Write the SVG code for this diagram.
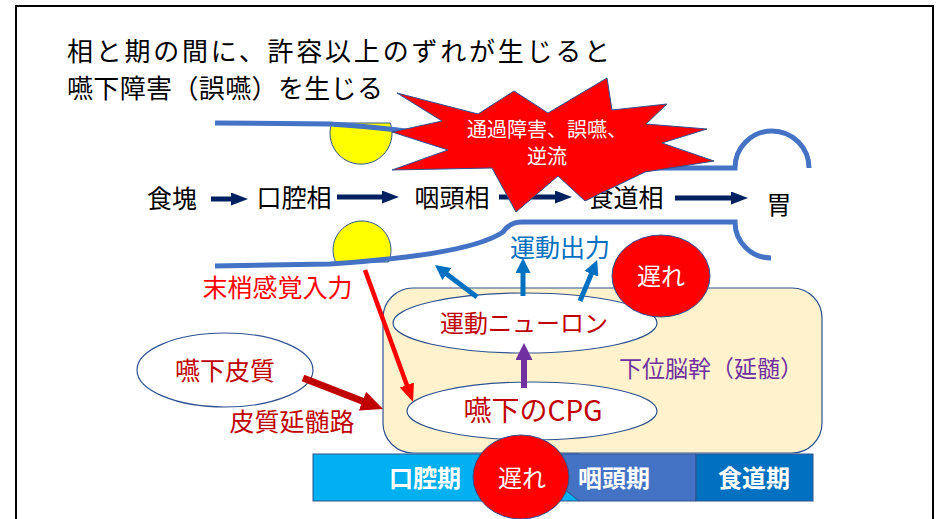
<svg xmlns="http://www.w3.org/2000/svg" width="937" height="519" viewBox="0 0 937 519">
  <style>
    text { font-family: "Noto Sans CJK JP", "Noto Sans", sans-serif; }
    .title { font-size: 26px; fill: #000; }
    .flow { font-size: 25px; fill: #000; text-anchor: middle; }
    .tube { fill: none; stroke: #4472C4; stroke-width: 5; }
    .bolus { fill: #FFFF00; stroke: #2F528F; stroke-width: 1; }
    .oval { fill: #FFFFFF; stroke: #2F528F; stroke-width: 1.2; }
    .dred { fill: #C00000; text-anchor: middle; }
    .late { fill: #FF0000; stroke: #2F528F; stroke-width: 1; }
    .white { fill: #FFFFFF; text-anchor: middle; }
    .phase { fill: #FFFFFF; font-size: 24px; font-weight: bold; text-anchor: middle; }
    .seg { stroke: #2F528F; stroke-width: 1; }
  </style>
  <defs>
    <marker id="hNavy" markerUnits="userSpaceOnUse" markerWidth="17" markerHeight="13" refX="9" refY="6.5" orient="auto">
      <path d="M0,0 L17,6.5 L0,13 Z" fill="#002060"/>
    </marker>
    <marker id="hBlue" markerUnits="userSpaceOnUse" markerWidth="15" markerHeight="15" refX="7" refY="7.5" orient="auto">
      <path d="M0,0 L15,7.5 L0,15 Z" fill="#0070C0"/>
    </marker>
    <marker id="hRed" markerUnits="userSpaceOnUse" markerWidth="18" markerHeight="15" refX="10" refY="7.5" orient="auto">
      <path d="M0,0 L18,7.5 L0,15 Z" fill="#FF0000"/>
    </marker>
    <marker id="hDred" markerUnits="userSpaceOnUse" markerWidth="22" markerHeight="20" refX="12" refY="10" orient="auto">
      <path d="M0,0 L22,10 L0,20 Z" fill="#C00000"/>
    </marker>
    <marker id="hPurple" markerUnits="userSpaceOnUse" markerWidth="17" markerHeight="17" refX="9" refY="8.5" orient="auto">
      <path d="M0,0 L17,8.5 L0,17 Z" fill="#7030A0"/>
    </marker>
  </defs>

  <!-- slide frame -->
  <rect x="16" y="6" width="917" height="540" fill="#FFFFFF" stroke="#000000" stroke-width="2"/>

  <!-- heading -->
  <text class="title" x="67" y="61" textLength="543">相と期の間に、許容以上のずれが生じると</text>
  <text class="title" x="67" y="98" textLength="316">嚥下障害（誤嚥）を生じる</text>

  <!-- bolus on the upper and lower walls -->
  <g id="bolus-upper"><path class="bolus" d="M331.7,123 A31,31 0 1 0 390.3,123 Z"/></g>
  <g id="bolus-lower"><path class="bolus" d="M335.6,262 A29,29 0 1 1 388.4,262 Z"/></g>

  <!-- pharynx / oesophagus / stomach walls -->
  <g id="tract">
    <path class="tube" d="M215,123 L330,124 C420,130 480,140 503,156 Q510,168 522,168 L735,168 A37,37 0 0 1 809,168"/>
    <path class="tube" d="M215,266 L330,264 C420,258 480,248 503,232 Q510,222 522,222 L735,222 A36,36 0 0 0 771,258"/>
  </g>

  <!-- stage sequence -->
  <g id="stage-bolus"><text class="flow" x="172" y="208">食塊</text></g>
  <g id="stage-oral"><text class="flow" x="294" y="207">口腔相</text></g>
  <g id="stage-pharyngeal"><text class="flow" x="452" y="207">咽頭相</text></g>
  <g id="stage-oesophageal"><text class="flow" x="626" y="207">食道相</text></g>
  <g id="stage-stomach"><text class="flow" x="779" y="214">胃</text></g>

  <g id="flow-connectors" stroke="#002060" stroke-width="5" fill="none">
    <path d="M211,199 H240" marker-end="url(#hNavy)"/>
    <path d="M337,197 H391" marker-end="url(#hNavy)"/>
    <path d="M499,197 H564" marker-end="url(#hNavy)"/>
    <path d="M675,198 H740" marker-end="url(#hNavy)"/>
  </g>

  <!-- failure burst -->
  <g id="burst">
    <polygon fill="#FF0000" stroke="#2F528F" stroke-width="1"
      points="397,93 478,114 514,91 548,113 607,78 612,110 667,104 646,124 707,129 662,143 714,161 645,172 585,201 558,176 516,212 492,168 392,170 448,150 392,132 442,121"/>
    <text class="white" x="547" y="137" font-size="20">通過障害、誤嚥、</text>
    <text class="white" x="547" y="164" font-size="20">逆流</text>
  </g>

  <!-- lower brainstem -->
  <g id="brainstem">
    <rect x="383" y="288" width="439" height="165" rx="30" fill="#FFF2CC" stroke="#2F528F" stroke-width="1.2"/>
    <text x="711" y="377" font-size="23" fill="#7030A0" text-anchor="middle">下位脳幹（延髄）</text>
  </g>

  <!-- phase bar -->
  <g id="phase-bar">
    <rect class="seg" x="313" y="454" width="266" height="47" fill="#00B0F0"/>
    <polygon class="seg" points="560,454 696,454 696,501 579,501 563,488" fill="#4472C4"/>
    <rect class="seg" x="696" y="454" width="117" height="47" fill="#0070C0"/>
    <text class="phase" x="425" y="487">口腔期</text>
    <text class="phase" x="614" y="487">咽頭期</text>
    <text class="phase" x="754" y="487">食道期</text>
  </g>

  <g id="motor-neuron">
    <ellipse class="oval" cx="525" cy="323" rx="132" ry="30"/>
    <text class="dred" x="524" y="332" font-size="24">運動ニューロン</text>
  </g>

  <g id="cpg">
    <ellipse class="oval" cx="532" cy="411" rx="125" ry="29"/>
    <text class="dred" x="533" y="421" font-size="28">嚥下のCPG</text>
  </g>

  <g id="cortex">
    <ellipse class="oval" cx="225" cy="370" rx="88" ry="37"/>
    <text class="dred" x="225" y="379.5" font-size="25">嚥下皮質</text>
  </g>

  <g id="label-sensory"><text x="277.5" y="296.5" font-size="25" fill="#FF0000" text-anchor="middle">末梢感覚入力</text></g>
  <g id="label-tract"><text class="dred" x="292" y="431" font-size="25">皮質延髄路</text></g>
  <g id="label-output"><text x="560" y="257" font-size="25" fill="#0070C0" text-anchor="middle">運動出力</text></g>

  <!-- pathways -->
  <g id="connectors" fill="none">
    <g stroke="#0070C0" stroke-width="5">
      <path d="M477,297 L441.3,269.9" marker-end="url(#hBlue)"/>
      <path d="M523,296 L523,266" marker-end="url(#hBlue)"/>
      <path d="M580,301 L594.1,267.4" marker-end="url(#hBlue)"/>
    </g>
    <path d="M365,270 L410.3,394.5" stroke="#FF0000" stroke-width="4.5" marker-end="url(#hRed)"/>
    <path d="M303,378 L373.7,405.4" stroke="#C00000" stroke-width="7" marker-end="url(#hDred)"/>
    <path d="M524,388 L524,351" stroke="#7030A0" stroke-width="6" marker-end="url(#hPurple)"/>
  </g>

  <!-- delay markers -->
  <g id="delay-output">
    <ellipse class="late" cx="661" cy="276" rx="49" ry="41"/>
    <text class="white" x="661" y="285" font-size="24">遅れ</text>
  </g>
  <g id="delay-phase">
    <ellipse class="late" cx="521" cy="477" rx="48" ry="42"/>
    <text class="white" x="522" y="487" font-size="24">遅れ</text>
  </g>
</svg>
